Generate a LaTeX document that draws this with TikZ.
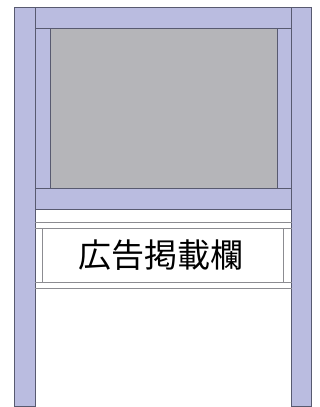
\documentclass[tikz,border=0pt]{standalone}
\usepackage{fontspec}
\newfontfamily\cjk{Noto Sans CJK JP}
\definecolor{lav}{RGB}{186,188,224}
\definecolor{panel}{RGB}{181,181,185}
\definecolor{edge}{RGB}{88,90,112}
\definecolor{thin}{RGB}{140,140,145}
\begin{document}
\begin{tikzpicture}[x=1pt,y=-1pt,
  frame/.style={fill=lav,draw=edge,line width=0.9pt},
  thinline/.style={draw=thin,line width=0.9pt}]
\useasboundingbox (0,0) rectangle (320,407);
% posts
\draw[frame] (14.7,7.3) rectangle (35.3,406);
\draw[frame] (291.7,7.3) rectangle (311.7,406);
% top bar
\draw[frame] (35.3,7.3) rectangle (291.7,28);
% inner frame sides
\draw[frame] (35.3,28) rectangle (50.5,188);
\draw[frame] (277,28) rectangle (291.7,188);
% gray panel
\draw[fill=panel,draw=edge,line width=0.9pt] (50.5,28) rectangle (277,188);
% crossbar
\draw[frame] (35.3,188) rectangle (291.7,209.3);
% sign strip lines
\draw[thinline] (35.3,222) -- (291.7,222);
\draw[thinline] (35.3,228) -- (291.7,228);
\draw[thinline] (35.3,282) -- (291.7,282);
\draw[thinline] (35.3,288) -- (291.7,288);
\draw[thinline] (42.3,228) -- (42.3,282);
\draw[thinline] (283.3,228) -- (283.3,282);
\node (sign) at (161,255) {\cjk\fontsize{33}{33}\selectfont 広告掲載欄};
\end{tikzpicture}
\end{document}
